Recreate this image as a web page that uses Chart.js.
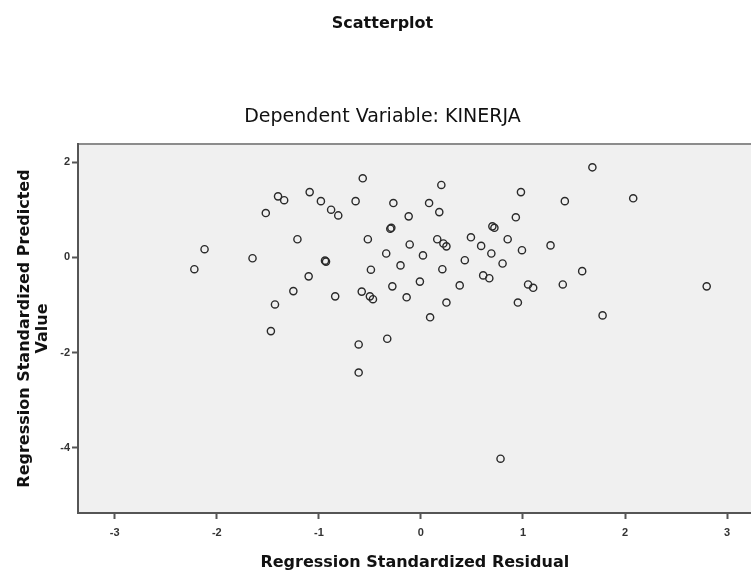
<!DOCTYPE html>
<html>
<head>
<meta charset="utf-8">
<script src="https://cdn.jsdelivr.net/npm/chart.js@4.4.1/dist/chart.umd.min.js"></script>
<style>
  html, body { margin: 0; padding: 0; background: #ffffff; overflow: hidden; }
  #wrap { width: 751px; height: 573px; position: relative; overflow: hidden; }
</style>
</head>
<body>
<div id="wrap"><canvas id="c" width="757" height="573"></canvas></div>
<script>
// Regression Standardized Residual (x) and Regression Standardized Predicted Value (y)
const residuals = [
  -2.22, -2.12, -1.65, -1.52, -1.40, -1.34, -1.21, -1.25, -1.43, -1.47,
  -1.10, -1.09, -0.98, -0.88, -0.81, -0.94, -0.93, -0.84, -0.64, -0.57,
  -0.52, -0.49, -0.58, -0.50, -0.47, -0.61, -0.61, -0.33, -0.34, -0.30,
  -0.29, -0.27, -0.28, -0.20, -0.14, -0.12, -0.11, 0.02, -0.01, 0.09,
  0.08, 0.18, 0.20, 0.16, 0.22, 0.25, 0.21, 0.25, 0.38, 0.43,
  0.49, 0.59, 0.61, 0.67, 0.69, 0.70, 0.72, 0.80, 0.78, 0.85,
  0.93, 0.98, 0.99, 0.95, 1.05, 1.10, 1.27, 1.41, 1.39, 1.58,
  1.68, 1.78, 2.08, 2.80
];
const predicted = [
  -0.25, 0.17, -0.02, 0.93, 1.28, 1.20, 0.38, -0.71, -0.99, -1.55,
  -0.40, 1.37, 1.18, 1.00, 0.88, -0.07, -0.09, -0.82, 1.18, 1.66,
  0.38, -0.26, -0.72, -0.82, -0.88, -1.83, -2.42, -1.71, 0.08, 0.60,
  0.62, 1.14, -0.61, -0.17, -0.84, 0.86, 0.27, 0.04, -0.51, -1.26,
  1.14, 0.95, 1.52, 0.38, 0.29, 0.23, -0.25, -0.95, -0.59, -0.06,
  0.42, 0.24, -0.38, -0.44, 0.08, 0.65, 0.62, -0.13, -4.23, 0.38,
  0.84, 1.37, 0.15, -0.95, -0.57, -0.64, 0.25, 1.18, -0.57, -0.29,
  1.89, -1.22, 1.24, -0.61
];
const xTickValues = [-3, -2, -1, 0, 1, 2, 3];
const yTickValues = [-4, -2, 0, 2];

const chartTitle = 'Scatterplot';
const chartSubtitle = 'Dependent Variable: KINERJA';
const xAxisTitle = 'Regression Standardized Residual';
const yAxisTitle = ['Regression Standardized Predicted', 'Value'];

const points = residuals.map((r, i) => ({ x: r, y: predicted[i] }));

const plotBackground = {
  id: 'plotBackground',
  beforeDraw(chart) {
    const { ctx, chartArea: a } = chart;
    ctx.save();
    ctx.fillStyle = '#f0f0f0';
    ctx.fillRect(a.left, a.top, a.right - a.left + 8, a.bottom - a.top);
    ctx.strokeStyle = '#8c8c8c';
    ctx.lineWidth = 2;
    ctx.beginPath();
    ctx.moveTo(a.left, a.top);
    ctx.lineTo(a.right + 8, a.top);
    ctx.stroke();
    ctx.restore();
  }
};

new Chart(document.getElementById('c'), {
  type: 'scatter',
  data: {
    datasets: [{
      data: points,
      pointStyle: 'circle',
      pointRadius: 3.6,
      pointBorderWidth: 1.4,
      pointBorderColor: '#2a2a2a',
      pointBackgroundColor: 'rgba(0,0,0,0)'
    }]
  },
  options: {
    responsive: false,
    animation: false,
    layout: { padding: { left: 8, right: 0, top: 0, bottom: 0 } },
    plugins: {
      legend: { display: false },
      tooltip: { enabled: false },
      title: {
        display: true,
        text: chartTitle,
        color: '#111',
        font: { family: 'DejaVu Sans', size: 16, weight: 'bold' },
        padding: { top: 14, bottom: 0 }
      },
      subtitle: {
        display: true,
        text: chartSubtitle,
        color: '#111',
        font: { family: 'DejaVu Sans', size: 19, weight: 'normal' },
        padding: { top: 72, bottom: 16 }
      }
    },
    scales: {
      x: {
        type: 'linear',
        min: -3.36,
        max: 3.24,
        afterFit(scale) { scale.height = 60; scale.paddingLeft = 0; scale.paddingRight = 0; },
        afterBuildTicks(scale) { scale.ticks = xTickValues.map(v => ({ value: v })); },
        ticks: {
          autoSkip: false,
          maxRotation: 0,
          padding: 7,
          color: '#333',
          font: { family: 'Liberation Sans', size: 11, weight: 'bold' },
          callback: v => String(v)
        },
        grid: { drawOnChartArea: false, drawTicks: true, tickLength: 6, tickColor: '#555', tickWidth: 2 },
        border: { display: true, color: '#555', width: 2 },
        title: {
          display: true,
          text: xAxisTitle,
          color: '#111',
          font: { family: 'DejaVu Sans', size: 16, weight: 'bold' },
          padding: { top: 0, bottom: 1 }
        }
      },
      y: {
        type: 'linear',
        min: -5.37,
        max: 2.38,
        afterFit(scale) { scale.width = 70; scale.paddingTop = 0; scale.paddingBottom = 0; },
        afterBuildTicks(scale) { scale.ticks = yTickValues.map(v => ({ value: v })); },
        ticks: {
          autoSkip: false,
          padding: 2,
          color: '#333',
          font: { family: 'Liberation Sans', size: 11, weight: 'bold' },
          callback: v => String(v)
        },
        grid: { drawOnChartArea: false, drawTicks: true, tickLength: 6, tickColor: '#555', tickWidth: 2 },
        border: { display: true, color: '#555', width: 2 },
        title: {
          display: true,
          text: yAxisTitle,
          color: '#111',
          font: { family: 'DejaVu Sans', size: 16, weight: 'bold', lineHeight: 1.1 },
          padding: { top: 8.2, bottom: 0 }
        }
      }
    }
  },
  plugins: [plotBackground]
});
</script>
</body>
</html>
